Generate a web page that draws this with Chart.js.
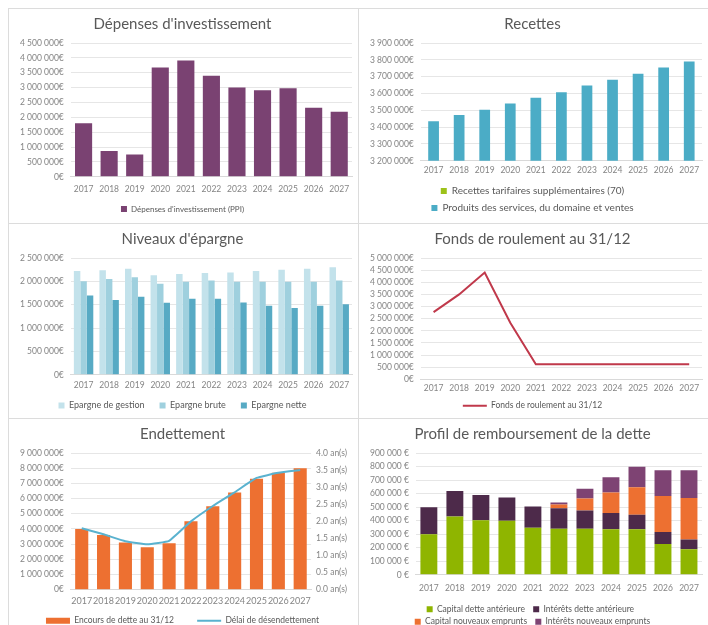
<!DOCTYPE html>
<html>
<head>
<meta charset="utf-8">
<script src="https://cdn.jsdelivr.net/npm/chart.js@4.4.0/dist/chart.umd.min.js"></script>
<style>
  body { margin: 0; background: #fff; width: 708px; height: 625px; overflow: hidden; }
  .panel { position: absolute; box-sizing: border-box; border: 1px solid #dcdcdc; background: #fff; }
  .panel canvas { position: absolute; left: 0; top: 0; }
</style>
</head>
<body>
<div class="panel" style="left:8px;top:8px;width:351px;height:216px"><canvas id="c1"></canvas></div>
<div class="panel" style="left:358px;top:8px;width:351px;height:216px"><canvas id="c2"></canvas></div>
<div class="panel" style="left:8px;top:223px;width:351px;height:196px"><canvas id="c3"></canvas></div>
<div class="panel" style="left:358px;top:223px;width:351px;height:196px"><canvas id="c4"></canvas></div>
<div class="panel" style="left:8px;top:418px;width:351px;height:210px"><canvas id="c5"></canvas></div>
<div class="panel" style="left:358px;top:418px;width:351px;height:210px"><canvas id="c6"></canvas></div>
<script>
var years = ['2017', '2018', '2019', '2020', '2021', '2022', '2023', '2024', '2025', '2026', '2027'];

// Dépenses d'investissement
var depensesPPI = [1800000, 870000, 750000, 3680000, 3910000, 3400000, 3000000, 2910000, 2980000, 2320000, 2190000];

// Recettes
var recettesTarifaires = [0, 0, 0, 0, 0, 0, 0, 0, 0, 0, 0];
var produitsServices = [3435000, 3472000, 3504000, 3540000, 3574000, 3608000, 3647000, 3681000, 3717000, 3755000, 3790000];

// Niveaux d'épargne
var epargneGestion = [2220000, 2240000, 2270000, 2130000, 2160000, 2180000, 2190000, 2220000, 2250000, 2270000, 2300000];
var epargneBrute = [2000000, 2050000, 2090000, 1950000, 1990000, 2020000, 1990000, 1990000, 1990000, 1990000, 2020000];
var epargneNette = [1700000, 1600000, 1670000, 1540000, 1630000, 1630000, 1550000, 1480000, 1430000, 1480000, 1510000];

// Fonds de roulement au 31/12
var fondsRoulement = [2770000, 3500000, 4400000, 2330000, 620000, 620000, 620000, 620000, 620000, 620000, 620000];

// Endettement
var encoursDette = [4000000, 3600000, 3100000, 2800000, 3050000, 4500000, 5500000, 6400000, 7300000, 7700000, 8000000];
var delaiDesendettement = [1.8, 1.62, 1.42, 1.33, 1.43, 2.0, 2.45, 2.85, 3.27, 3.42, 3.5];

// Profil de remboursement de la dette
var capitalAnterieure = [300000, 430000, 404000, 399000, 348000, 341000, 341000, 336000, 336000, 227000, 189000];
var interetsAnterieure = [200000, 190000, 185000, 172000, 157000, 151000, 134000, 121000, 108000, 89000, 71000];
var capitalNouveaux = [0, 0, 0, 0, 0, 28000, 88000, 152000, 202000, 267000, 308000];
var interetsNouveaux = [0, 0, 0, 0, 0, 15000, 73000, 111000, 152000, 190000, 205000];

var FONT = 'Lato, "Open Sans", sans-serif';
var GREY = '#858585';
var GRID = '#e6e6e6';

function groupDigits(v) {
  return String(Math.round(v)).replace(/\B(?=(\d{3})+(?!\d))/g, ' ');
}
function euro(v) { return groupDigits(v) + '€'; }
function euroSpaced(v) { return groupDigits(v) + ' €'; }
function years1(v) { return v.toFixed(1) + ' an(s)'; }

function size(id) {
  var c = document.getElementById(id);
  var p = c.parentNode;
  c.width = p.clientWidth;
  c.height = p.clientHeight;
  c.style.width = p.clientWidth + 'px';
  c.style.height = p.clientHeight + 'px';
  return c.getContext('2d');
}

// widen the gap after every legend item but the last one
function spacedLabels(gap, reverse) {
  return function (chart) {
    var items = Chart.defaults.plugins.legend.labels.generateLabels(chart);
    if (reverse) items.reverse();
    for (var i = 0; i < items.length - 1; i++) items[i].text += gap;
    return items;
  };
}

function baseOptions(title, legendSize, legendPad, bottomPad, xPad) {
  return {
    responsive: false,
    animation: false,
    layout: { padding: { left: 4, right: 6, top: 4, bottom: bottomPad } },
    plugins: {
      title: {
        display: true, text: title, color: '#595959',
        font: { family: FONT, size: 15, weight: 'normal' }, padding: { top: 2, bottom: 10 }
      },
      legend: {
        position: 'bottom',
        labels: {
          color: '#595959', font: { family: FONT, size: legendSize },
          boxWidth: 6, boxHeight: 6, padding: legendPad
        }
      },
      tooltip: { enabled: false }
    },
    scales: {
      x: {
        grid: { display: false, drawTicks: false },
        border: { color: '#d9d9d9' },
        ticks: { color: GREY, font: { family: FONT, size: 8.5 }, padding: xPad,
                 maxRotation: 0, minRotation: 0, autoSkip: false }
      },
      y: {
        grid: { color: GRID, drawTicks: false },
        border: { display: false },
        ticks: { color: GREY, font: { family: FONT, size: 8.5 }, padding: 7, autoSkip: false }
      }
    }
  };
}

Chart.defaults.font.family = FONT;

// 1. Dépenses d'investissement
var o1 = baseOptions("Dépenses d'investissement", 8, 4, 0, 7);
o1.scales.y.min = 0; o1.scales.y.max = 4500000;
o1.scales.y.ticks.stepSize = 500000; o1.scales.y.ticks.callback = euro;
new Chart(size('c1'), {
  type: 'bar',
  data: {
    labels: years,
    datasets: [{
      label: "Dépenses d'investissement (PPI)", data: depensesPPI,
      backgroundColor: '#7a4272', categoryPercentage: 0.67, barPercentage: 1
    }]
  },
  options: o1
});

// 2. Recettes
var o2 = baseOptions('Recettes', 10, 7, 0, 4);
o2.scales.x.stacked = true;
o2.scales.y.stacked = true;
o2.scales.y.min = 3200000; o2.scales.y.max = 3900000;
o2.scales.y.ticks.stepSize = 100000; o2.scales.y.ticks.callback = euro;
new Chart(size('c2'), {
  type: 'bar',
  data: {
    labels: years,
    datasets: [
      { label: 'Recettes tarifaires supplémentaires (70)', data: recettesTarifaires,
        backgroundColor: '#9dc21a', categoryPercentage: 0.42, barPercentage: 1 },
      { label: 'Produits des services, du domaine et ventes', data: produitsServices,
        backgroundColor: '#4bacc6', categoryPercentage: 0.42, barPercentage: 1 }
    ]
  },
  options: o2
});

// 3. Niveaux d'épargne
var o3 = baseOptions("Niveaux d'épargne", 9, 6, -2, 5);
o3.scales.y.min = 0; o3.scales.y.max = 2500000;
o3.scales.y.ticks.stepSize = 500000; o3.scales.y.ticks.callback = euro;
o3.plugins.legend.labels.generateLabels = spacedLabels('\u2002\u2002');
new Chart(size('c3'), {
  type: 'bar',
  data: {
    labels: years,
    datasets: [
      { label: 'Epargne de gestion', data: epargneGestion, backgroundColor: '#c3e2eb',
        categoryPercentage: 0.76, barPercentage: 1 },
      { label: 'Epargne brute', data: epargneBrute, backgroundColor: '#9fd0de',
        categoryPercentage: 0.76, barPercentage: 1 },
      { label: 'Epargne nette', data: epargneNette, backgroundColor: '#57aac4',
        categoryPercentage: 0.76, barPercentage: 1 }
    ]
  },
  options: o3
});

// 4. Fonds de roulement au 31/12
var o4 = baseOptions('Fonds de roulement au 31/12', 8.5, 4, -2, 4);
o4.scales.x.offset = true;
o4.scales.y.min = 0; o4.scales.y.max = 5000000;
o4.scales.y.ticks.stepSize = 500000; o4.scales.y.ticks.callback = euro;
o4.plugins.legend.labels.usePointStyle = true;
o4.plugins.legend.labels.pointStyleWidth = 24;
new Chart(size('c4'), {
  type: 'line',
  data: {
    labels: years,
    datasets: [{
      label: 'Fonds de roulement au 31/12', data: fondsRoulement,
      borderColor: '#c0394b', backgroundColor: '#c0394b', borderWidth: 2,
      pointRadius: 0, tension: 0, pointStyle: 'line'
    }]
  },
  options: o4
});

// 5. Endettement
var o5 = baseOptions('Endettement', 8.5, 4, -8, 6);
o5.scales.x.ticks.font.size = 9;
o5.scales.y.min = 0; o5.scales.y.max = 9000000;
o5.scales.y.ticks.stepSize = 1000000; o5.scales.y.ticks.callback = euro;
o5.scales.y1 = {
  position: 'right', min: 0, max: 4,
  grid: { display: false, drawTicks: false }, border: { display: false },
  ticks: { stepSize: 0.5, callback: years1, color: GREY, font: { family: FONT, size: 8.5 },
           padding: 5, autoSkip: false }
};
o5.plugins.legend.labels.usePointStyle = true;
o5.plugins.legend.labels.pointStyleWidth = 24;
// the line is drawn on top (lower order), but the bar comes first in the legend
o5.plugins.legend.labels.generateLabels = spacedLabels('\u2003\u2003\u2003', true);
new Chart(size('c5'), {
  type: 'bar',
  data: {
    labels: years,
    datasets: [
      { label: 'Encours de dette au 31/12', data: encoursDette, yAxisID: 'y',
        backgroundColor: '#ed7031', categoryPercentage: 0.6, barPercentage: 1,
        pointStyle: 'rect', order: 1 },
      { type: 'line', label: 'Délai de désendettement', data: delaiDesendettement, yAxisID: 'y1',
        borderColor: '#5ab2cf', backgroundColor: '#5ab2cf', borderWidth: 2, pointRadius: 0,
        tension: 0.12, pointStyle: 'line', order: 0 }
    ]
  },
  options: o5
});

// 6. Profil de remboursement de la dette
var o6 = baseOptions('Profil de remboursement de la dette', 8.5, 4, -9, 8);
o6.scales.x.stacked = true;
o6.scales.y.stacked = true;
o6.scales.y.min = 0; o6.scales.y.max = 900000;
o6.scales.y.ticks.stepSize = 100000; o6.scales.y.ticks.callback = euroSpaced;
o6.plugins.legend.labels.generateLabels = spacedLabels('\u2002');
new Chart(size('c6'), {
  type: 'bar',
  data: {
    labels: years,
    datasets: [
      { label: 'Capital dette antérieure', data: capitalAnterieure, backgroundColor: '#8fb500',
        categoryPercentage: 0.65, barPercentage: 1 },
      { label: 'Intérêts dette antérieure', data: interetsAnterieure, backgroundColor: '#4d2a4a',
        categoryPercentage: 0.65, barPercentage: 1 },
      { label: 'Capital nouveaux emprunts', data: capitalNouveaux, backgroundColor: '#ed7031',
        categoryPercentage: 0.65, barPercentage: 1 },
      { label: 'Intérêts nouveaux emprunts', data: interetsNouveaux, backgroundColor: '#7e4373',
        categoryPercentage: 0.65, barPercentage: 1 }
    ]
  },
  options: o6
});
</script>
</body>
</html>
